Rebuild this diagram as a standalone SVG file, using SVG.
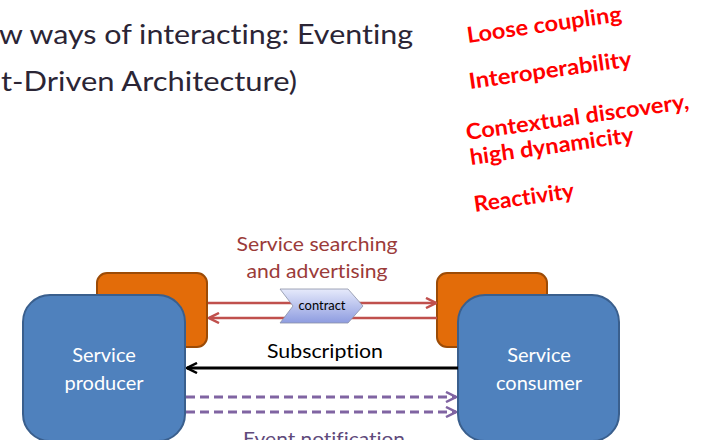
<svg xmlns="http://www.w3.org/2000/svg" width="708" height="440" viewBox="0 0 708 440">
  <style>
    text { font-variant-ligatures: none; }
    .title { font-family: "Lato", "Liberation Sans", sans-serif; font-size: 27px; fill: #2b2535; }
    .red { font-family: "Lato", "Liberation Sans", sans-serif; font-size: 22px; font-weight: bold; fill: #ff0000; }
    .lbl { font-family: "Lato", "Liberation Sans", sans-serif; font-size: 20px; text-anchor: middle; }
    .white { fill: #ffffff; }
    .orange { fill: #e36c09; stroke: #9c4b06; stroke-width: 2; }
    .blue { fill: #4f81bd; stroke: #3a5f8d; stroke-width: 2; }
  </style>
  <defs>
    <marker id="arrRed" viewBox="0 0 12 12" refX="11" refY="6" markerWidth="12" markerHeight="12" markerUnits="userSpaceOnUse" orient="auto">
      <path d="M1,1 L11,6 L1,11" fill="none" stroke="#c0504d" stroke-width="2.5"/>
    </marker>
    <marker id="arrBlack" viewBox="0 0 12 12" refX="11" refY="6" markerWidth="12" markerHeight="12" markerUnits="userSpaceOnUse" orient="auto">
      <path d="M1,1 L11,6 L1,11" fill="none" stroke="#000000" stroke-width="2.5"/>
    </marker>
    <marker id="arrPurple" viewBox="0 0 12 12" refX="11" refY="6" markerWidth="12" markerHeight="12" markerUnits="userSpaceOnUse" orient="auto">
      <path d="M1,1 L11,6 L1,11" fill="none" stroke="#8064a2" stroke-width="2.5"/>
    </marker>
    <linearGradient id="gradContract" x1="0" y1="0" x2="0" y2="1">
      <stop offset="0" stop-color="#e6eafb"/>
      <stop offset="1" stop-color="#8e9ce0"/>
    </linearGradient>
  </defs>

  <g id="title">
    <text class="title" x="-1" y="44" textLength="414" lengthAdjust="spacingAndGlyphs">w ways of interacting: Eventing</text>
    <text class="title" x="1" y="91" textLength="296" lengthAdjust="spacingAndGlyphs">t-Driven Architecture)</text>
  </g>

  <g id="benefits">
    <text class="red" transform="translate(468,43) rotate(-8)" textLength="156" lengthAdjust="spacingAndGlyphs">Loose coupling</text>
    <text class="red" transform="translate(470,89) rotate(-8)" textLength="164" lengthAdjust="spacingAndGlyphs">Interoperability</text>
    <text class="red" transform="translate(467,140) rotate(-8)" textLength="225" lengthAdjust="spacingAndGlyphs">Contextual discovery,</text>
    <text class="red" transform="translate(471,165) rotate(-8)" textLength="165" lengthAdjust="spacingAndGlyphs">high dynamicity</text>
    <text class="red" transform="translate(475,212) rotate(-8)" textLength="101" lengthAdjust="spacingAndGlyphs">Reactivity</text>
  </g>

  <g id="producer-interface">
    <rect class="orange" x="97" y="273" width="110" height="74" rx="10"/>
  </g>
  <g id="consumer-interface">
    <rect class="orange" x="437" y="273" width="110" height="74" rx="10"/>
  </g>

  <g id="producer">
    <rect class="blue" x="23" y="295" width="162" height="146" rx="27"/>
    <text class="lbl white" x="104" y="362">Service</text>
    <text class="lbl white" x="104" y="390">producer</text>
  </g>
  <g id="consumer">
    <rect class="blue" x="458" y="295" width="161" height="146" rx="27"/>
    <text class="lbl white" x="539" y="362">Service</text>
    <text class="lbl white" x="539" y="390">consumer</text>
  </g>

  <g id="connectors">
    <line x1="208" y1="303" x2="436" y2="303" stroke="#c0504d" stroke-width="2.5" marker-end="url(#arrRed)"/>
    <line x1="437" y1="318" x2="209" y2="318" stroke="#c0504d" stroke-width="2.5" marker-end="url(#arrRed)"/>
    <line x1="458" y1="368" x2="187" y2="368" stroke="#000000" stroke-width="3" marker-end="url(#arrBlack)"/>
    <line x1="186" y1="397" x2="456" y2="397" stroke="#8064a2" stroke-width="3" stroke-dasharray="9 5" marker-end="url(#arrPurple)"/>
    <line x1="186" y1="412" x2="456" y2="412" stroke="#8064a2" stroke-width="3" stroke-dasharray="9 5" marker-end="url(#arrPurple)"/>
    <text class="lbl" x="317" y="251" fill="#9b3b39" textLength="161" lengthAdjust="spacingAndGlyphs">Service searching</text>
    <text class="lbl" x="317" y="278" fill="#9b3b39" textLength="141" lengthAdjust="spacingAndGlyphs">and advertising</text>
    <text class="lbl" x="325" y="358" fill="#000000" textLength="116" lengthAdjust="spacingAndGlyphs">Subscription</text>
    <text class="lbl" x="324" y="446" fill="#604a7b" textLength="162" lengthAdjust="spacingAndGlyphs">Event notification</text>
  </g>

  <g id="contract">
    <path d="M280,289 L348,289 L363,306 L348,323 L280,323 L293,306 Z" fill="url(#gradContract)" stroke="#8a90a6" stroke-width="0.8"/>
    <text x="322" y="310" font-family="Lato, 'Liberation Sans', sans-serif" font-size="13" text-anchor="middle" fill="#000000" textLength="47" lengthAdjust="spacingAndGlyphs">contract</text>
  </g>
</svg>
